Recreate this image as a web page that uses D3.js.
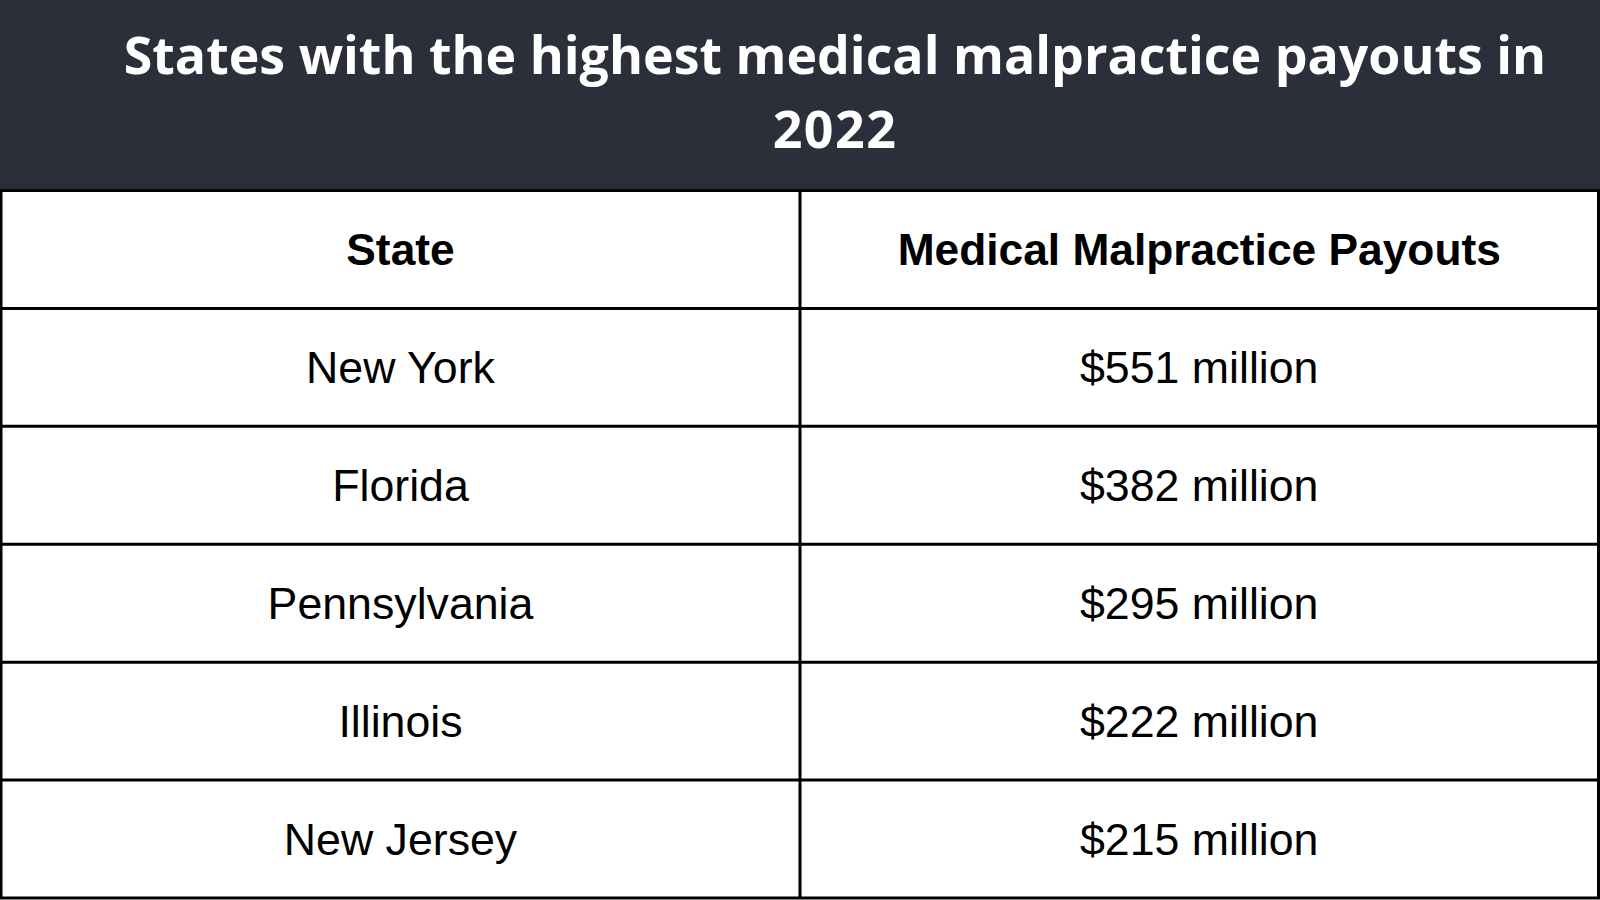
<!DOCTYPE html>
<html>
<head>
<meta charset="utf-8">
<script src="https://cdn.jsdelivr.net/npm/d3@7"></script>
<style>
html,body{margin:0;padding:0;background:#fff;}
svg{display:block;}
</style>
</head>
<body>
<svg id="chart" width="1600" height="900"></svg>
<script>
const titleLines = ["States with the highest medical malpractice payouts in", "2022"];
const headers = ["State", "Medical Malpractice Payouts"];
const states = ["New York", "Florida", "Pennsylvania", "Illinois", "New Jersey"];
const payouts = [551, 382, 295, 222, 215];
const unit = "million";

const W = 1600, H = 900;
const svg = d3.select("#chart");

// header band
const bandH = 190;
svg.append("rect").attr("x",0).attr("y",0).attr("width",W).attr("height",bandH).attr("fill","#2a2f3a");

const titleG = svg.append("g");
const titleFont = "'Open Sans', 'Noto Sans', sans-serif";
const t1 = titleG.append("text")
  .attr("x", 835).attr("y", 74)
  .attr("text-anchor","middle")
  .attr("fill","#fff")
  .attr("font-family", titleFont)
  .attr("font-weight", 700)
  .attr("font-size", 52)
  .text(titleLines[0]);
const targetW = 1423;
const w0 = t1.node().getComputedTextLength();
const fs = 52 * targetW / w0;
t1.attr("font-size", fs);
titleG.append("text")
  .attr("x", 835).attr("y", 148)
  .attr("text-anchor","middle")
  .attr("fill","#fff")
  .attr("font-family", titleFont)
  .attr("font-weight", 700)
  .attr("font-size", fs)
  .attr("letter-spacing", 1.5)
  .text(titleLines[1]);

// table
const rows = [headers].concat(states.map((s,i)=>[s, "$" + payouts[i] + " " + unit]));
const y = d3.scaleBand().domain(d3.range(rows.length)).range([190.5, 898]).padding(0);
const colEdges = [1, 800, 1598.5];
const colCenter = c => (colEdges[c] + colEdges[c+1]) / 2;

const tbl = svg.append("g");
tbl.append("rect").attr("x",0).attr("y",190.5).attr("width",W).attr("height",H-190.5).attr("fill","#fff");

rows.forEach((r, i) => {
  r.forEach((cell, c) => {
    const f = i === 0 ? 44.3 : 44.7;
    tbl.append("text")
      .attr("x", colCenter(c))
      .attr("y", y(i) + y.bandwidth()/2 + 15.5)
      .attr("text-anchor","middle")
      .attr("fill","#000")
      .attr("font-family","'Liberation Sans', Arial, sans-serif")
      .attr("font-weight", i === 0 ? 700 : 400)
      .attr("font-size", f)
      .text(cell);
  });
});

// grid lines
const lineYs = d3.range(rows.length + 1).map(i => i < rows.length ? y(i) : 898);
tbl.selectAll("line.h").data(lineYs).join("line")
  .attr("x1",0).attr("x2",W).attr("y1",d=>d).attr("y2",d=>d)
  .attr("stroke","#000").attr("stroke-width",3);
tbl.selectAll("line.v").data(colEdges).join("line")
  .attr("class","v")
  .attr("x1",d=>d).attr("x2",d=>d).attr("y1",190.5).attr("y2",898)
  .attr("stroke","#000").attr("stroke-width",3);
</script>
</body>
</html>
